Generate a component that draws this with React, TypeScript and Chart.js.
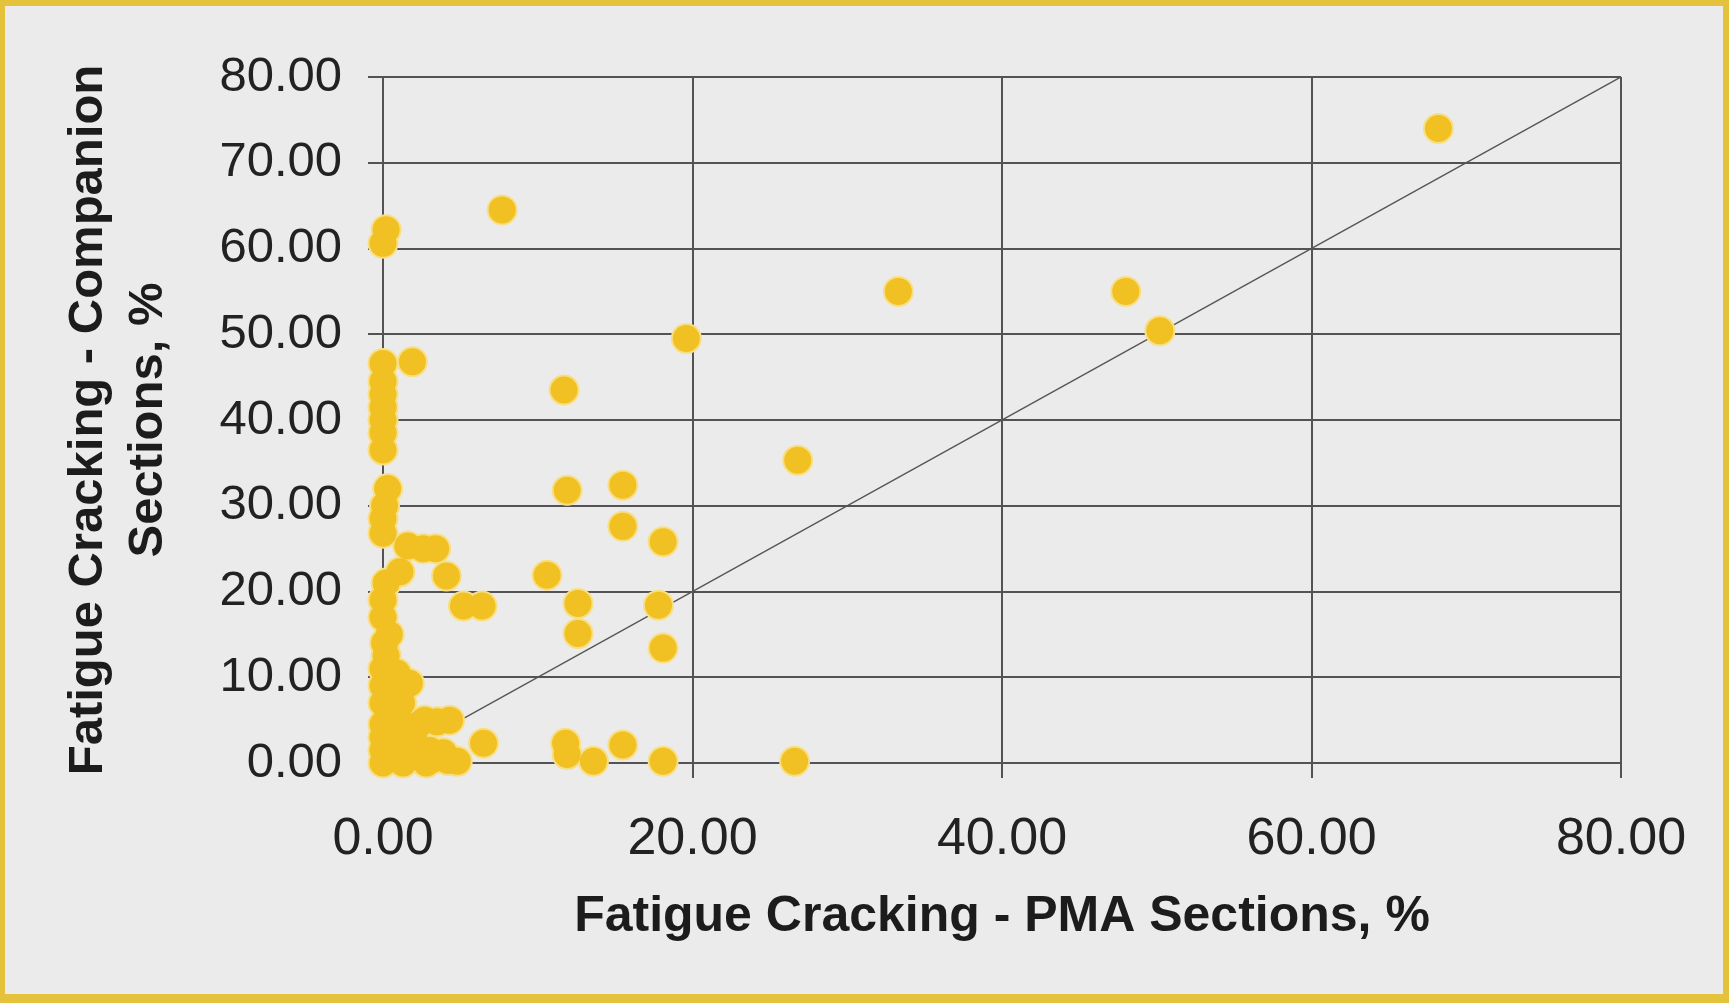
import React, { useEffect, useRef } from "react";
import { Chart, registerables } from "chart.js";

Chart.register(...registerables);

// Fatigue cracking, PMA sections (%)
const pmaX: number[] = [
  68.2, 7.7, 0.2, 0.0, 33.3, 48.0, 50.2, 19.6, 11.7, 26.8,
  11.9, 15.5, 15.5, 18.1, 10.6, 12.6, 12.6, 17.8, 18.1, 11.8,
  11.9, 13.6, 15.5, 18.1, 26.6,
  0.0, 1.9, 0.0, 0.0, 0.0, 0.0, 0.0, 0.0, 0.3, 0.1,
  0.0, 0.0, 1.6, 2.6, 3.4, 4.1, 5.2, 6.4, 1.1, 0.2,
  0.0, 0.0, 0.4, 0.1, 0.0, 1.7, 0.0, 0.0, 0.5, 1.0,
  0.0, 2.7, 4.3, 0.0, 1.0, 2.0, 6.5, 0.0, 0.0, 1.3,
  2.8, 3.9, 4.8, 1.8, 3.0, 0.8,
  0.5, 0.8, 1.2, 0.3, 1.5, 2.3, 3.5, 0.6, 2.0, 3.2,
  4.2, 0.4, 1.4, 2.5, 0.2, 0.9,
];

// Fatigue cracking, companion sections (%)
const companionY: number[] = [
  74.0, 64.5, 62.2, 60.6, 55.0, 55.0, 50.4, 49.5, 43.5, 35.3,
  31.8, 32.4, 27.6, 25.8, 21.9, 18.6, 15.1, 18.4, 13.4, 2.3,
  1.0, 0.2, 2.1, 0.2, 0.2,
  46.6, 46.8, 44.5, 43.0, 41.5, 40.0, 38.5, 36.5, 32.0, 30.0,
  28.5, 26.8, 25.3, 25.0, 25.0, 21.8, 18.3, 18.3, 22.3, 21.0,
  19.0, 17.0, 15.0, 14.0, 11.0, 9.3, 9.0, 7.0, 6.0, 5.0,
  4.5, 5.0, 5.0, 3.0, 2.5, 3.5, 2.3, 1.5, 0.0, 0.0,
  0.0, 1.2, 0.2, 1.0, 1.5, 0.5,
  10.0, 8.0, 7.0, 5.5, 4.0, 4.5, 4.8, 3.2, 2.0, 0.4,
  0.3, 2.0, 1.2, 0.8, 12.5, 10.5,
];

// Line of equality
const equalityX: number[] = [0, 80];
const equalityY: number[] = [0, 80];

const axisMin = 0;
const axisMax = 80;
const xStep = 20;
const yStep = 10;

const xTitle = "Fatigue Cracking - PMA Sections, %";
const yTitle = ["Fatigue Cracking - Companion", "Sections, %"];

export default function App() {
  const canvasRef = useRef<HTMLCanvasElement | null>(null);

  useEffect(() => {
    const canvas = canvasRef.current;
    if (!canvas) return;
    const points = pmaX.map((x, i) => ({ x, y: companionY[i] }));
    const diag = equalityX.map((x, i) => ({ x, y: equalityY[i] }));
    const gridColor = "#545254";
    const titleFamily = "'Liberation Sans Narrow', 'Liberation Sans', Arial, sans-serif";
    const chart = new Chart(canvas, {
      type: "scatter",
      data: {
        datasets: [
          {
            type: "scatter",
            label: "Sections",
            data: points,
            backgroundColor: "#f1c022",
            borderWidth: 0,
            pointRadius: 13.5,
            pointHoverRadius: 13.5,
            order: 1,
            clip: false as any,
          },
          {
            type: "scatter",
            label: "Sections halo",
            data: points,
            backgroundColor: "#f7df86",
            borderWidth: 0,
            pointRadius: 15.5,
            pointHoverRadius: 15.5,
            order: 2,
            clip: false as any,
          },
          {
            type: "line",
            label: "Equality",
            data: diag,
            borderColor: "#555555",
            borderWidth: 1.5,
            pointRadius: 0,
            fill: false,
            order: 3,
          } as any,
        ],
      },
      options: {
        animation: false,
        responsive: false,
        maintainAspectRatio: false,
        layout: { padding: { left: 40, top: 77, right: 108, bottom: 57 } },
        plugins: {
          legend: { display: false },
          tooltip: { enabled: false },
        },
        scales: {
          x: {
            type: "linear",
            min: axisMin,
            max: axisMax,
            afterFit: (s: any) => {
              s.height = 183;
            },
            ticks: {
              stepSize: xStep,
              padding: 30,
              color: "#222222",
              font: { family: "'Liberation Sans', Arial, sans-serif", size: 52 },
              callback: (v: any) => Number(v).toFixed(2),
            },
            grid: { color: gridColor, lineWidth: 2, tickLength: 15, drawTicks: true },
            border: { color: gridColor, width: 2 },
            title: {
              display: true,
              text: xTitle,
              color: "#1c1c1c",
              font: { family: titleFamily, size: 50, weight: "bold", lineHeight: 1.16 },
              padding: { top: 0, bottom: 0 },
            },
          },
          y: {
            type: "linear",
            min: axisMin,
            max: axisMax,
            afterFit: (s: any) => {
              s.width = 343;
            },
            ticks: {
              stepSize: yStep,
              padding: 26,
              color: "#222222",
              font: { family: "'Liberation Sans', Arial, sans-serif", size: 49 },
              callback: (v: any) => Number(v).toFixed(2),
            },
            grid: { color: gridColor, lineWidth: 2, tickLength: 15, drawTicks: true },
            border: { color: gridColor, width: 2 },
            title: {
              display: true,
              text: yTitle,
              color: "#1c1c1c",
              font: { family: titleFamily, size: 49, weight: "bold", lineHeight: 1.22 },
              padding: { top: 19, bottom: 0 },
            },
          },
        },
      },
    });
    return () => chart.destroy();
  }, []);

  return (
    <div
      style={{
        position: "absolute",
        left: 0,
        top: 0,
        width: 1729,
        height: 1003,
        background: "#ecebec",
        overflow: "hidden",
      }}
    >
      <canvas
        ref={canvasRef}
        width={1729}
        height={1003}
        style={{ position: "absolute", left: 0, top: 0, width: 1729, height: 1003 }}
      />
      <div
        style={{
          position: "absolute",
          left: 0,
          top: 0,
          width: 1729,
          height: 1003,
          boxSizing: "border-box",
          borderStyle: "solid",
          borderColor: "#e4c23c",
          borderWidth: "6px 6px 9px 5px",
          pointerEvents: "none",
        }}
      />
    </div>
  );
}
